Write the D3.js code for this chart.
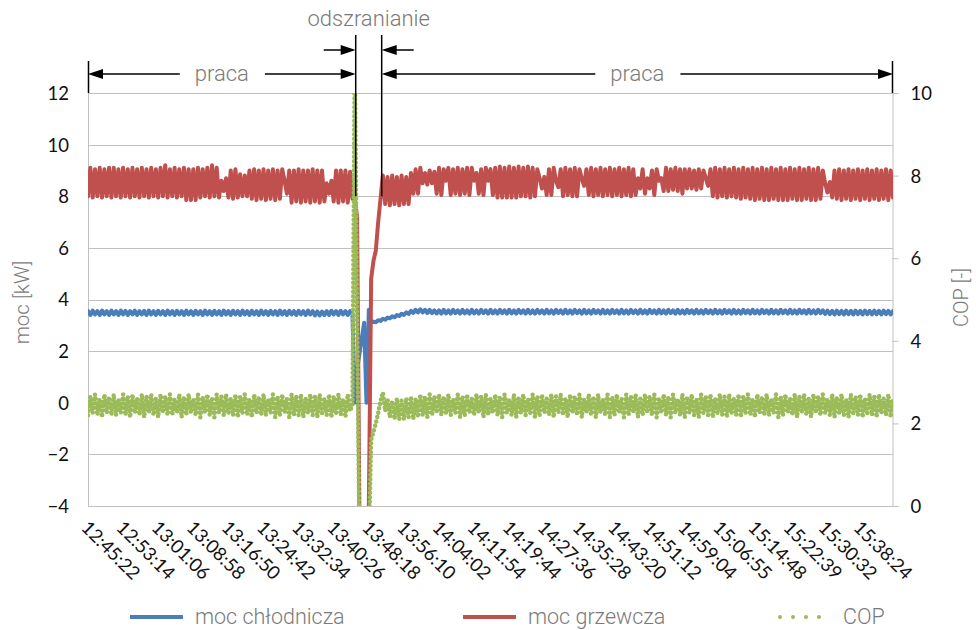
<!DOCTYPE html>
<html>
<head>
<meta charset="utf-8">
<script src="https://cdn.jsdelivr.net/npm/d3@7"></script>
<style>
  body { margin: 0; background: #fff; }
  .tick-label { font-family: Lato, "Open Sans", sans-serif; font-size: 18.5px; fill: #111; }
  .title { font-family: Roboto, sans-serif; font-weight: 300; fill: #7a7a7a; }
</style>
</head>
<body>
<svg id="chart"></svg>
<script>
(function () {
    // x axis labels, one every 15 samples
    const timeLabels = ["12:45:22", "12:53:14", "13:01:06", "13:08:58", "13:16:50", "13:24:42",
        "13:32:34", "13:40:26", "13:48:18", "13:56:10", "14:04:02", "14:11:54", "14:19:44",
        "14:27:36", "14:35:28", "14:43:20", "14:51:12", "14:59:04", "15:06:55", "15:14:48",
        "15:22:39", "15:30:32", "15:38:24"];
    const labelStep = 15;

    // moc chłodnicza [kW]
    const cooling = [
        3.55,3.4,3.57,3.42,3.55,3.4,3.57,3.42,3.55,3.4,3.57,3.42,3.55,3.4,3.57,
        3.42,3.56,3.4,3.55,3.42,3.57,3.4,3.55,3.42,3.56,3.4,3.57,3.42,3.55,3.4,
        3.56,3.42,3.55,3.4,3.57,3.42,3.55,3.4,3.56,3.42,3.55,3.4,3.57,3.42,3.55,
        3.4,3.56,3.42,3.55,3.4,3.57,3.42,3.55,3.4,3.56,3.42,3.55,3.4,3.57,3.42,
        3.55,3.4,3.56,3.42,3.55,3.4,3.57,3.42,3.55,3.4,3.56,3.42,3.55,3.4,3.57,
        3.42,3.55,3.4,3.56,3.42,3.55,3.4,3.57,3.42,3.55,3.4,3.56,3.42,3.55,3.4,
        3.56,3.42,3.55,3.4,3.57,3.42,3.55,3.38,3.54,3.38,3.53,3.4,3.55,3.4,3.56,
        3.42,3.55,3.4,3.56,3.42,3.55,3.4,3.55,3.45,0.0,1.3,1.9,2.5,3.1,0.0,
        3.6,3.1,3.14,3.12,3.2,3.17,3.25,3.22,3.3,3.27,3.35,3.31,3.4,3.36,3.45,
        3.4,3.5,3.44,3.56,3.48,3.6,3.5,3.62,3.5,3.6,3.48,3.6,3.47,3.58,3.46,
        3.58,3.45,3.6,3.46,3.58,3.45,3.6,3.47,3.58,3.45,3.6,3.46,3.58,3.45,3.6,
        3.46,3.58,3.45,3.6,3.47,3.58,3.45,3.6,3.46,3.58,3.45,3.6,3.47,3.58,3.45,
        3.6,3.46,3.58,3.45,3.6,3.47,3.58,3.45,3.6,3.46,3.58,3.45,3.6,3.47,3.58,
        3.45,3.6,3.46,3.58,3.45,3.6,3.47,3.58,3.45,3.6,3.46,3.58,3.45,3.6,3.47,
        3.58,3.45,3.6,3.46,3.58,3.45,3.6,3.47,3.58,3.45,3.6,3.46,3.58,3.45,3.6,
        3.47,3.58,3.45,3.6,3.46,3.58,3.45,3.6,3.47,3.58,3.45,3.6,3.46,3.58,3.45,
        3.6,3.47,3.58,3.45,3.6,3.46,3.58,3.45,3.6,3.47,3.58,3.45,3.6,3.46,3.58,
        3.45,3.6,3.47,3.58,3.45,3.6,3.46,3.58,3.45,3.6,3.47,3.58,3.45,3.6,3.46,
        3.58,3.45,3.6,3.47,3.58,3.45,3.6,3.46,3.58,3.45,3.6,3.47,3.58,3.45,3.6,
        3.46,3.58,3.45,3.6,3.47,3.58,3.45,3.6,3.46,3.58,3.45,3.6,3.47,3.58,3.45,
        3.6,3.46,3.58,3.45,3.6,3.47,3.58,3.45,3.6,3.46,3.58,3.45,3.6,3.47,3.58,
        3.44,3.57,3.43,3.56,3.42,3.57,3.43,3.56,3.42,3.57,3.43,3.56,3.42,3.57,3.43,
        3.56,3.42,3.57,3.43,3.56,3.42,3.57,3.43,3.56,3.42,3.57,3.43,3.56,3.42,3.55
    ];

    // moc grzewcza [kW]
    const heating = [
        8.0,9.1,7.95,9.05,8.0,9.1,7.95,9.05,8.0,9.1,7.95,9.1,8.0,9.05,7.95,
        9.1,8.0,9.05,7.95,9.1,8.0,9.05,7.95,9.1,8.0,9.05,7.95,9.1,8.0,9.05,
        7.95,9.1,8.0,9.2,7.95,9.05,8.0,9.1,7.95,9.05,8.0,9.1,7.85,9.05,7.85,
        9.05,7.85,9.1,7.95,9.05,8.0,9.1,7.95,9.2,8.0,9.1,7.95,8.6,8.2,8.7,
        7.95,9.0,7.9,9.05,7.95,8.85,8.0,8.8,8.0,9.0,7.9,9.05,7.85,9.0,7.9,
        9.05,7.85,9.0,7.9,9.05,7.85,9.0,7.9,9.05,8.6,8.1,9.0,7.75,9.0,7.8,
        9.05,7.75,9.0,7.8,9.0,7.75,9.05,7.8,9.0,7.75,9.0,7.8,8.5,8.1,8.6,
        7.8,9.0,7.75,9.0,7.8,9.0,7.75,8.95,7.9,7.9,7.2,-4.5,-6,-6,-6,
        -4.1,4.8,5.5,5.9,7.0,7.9,8.8,7.7,8.75,7.65,8.8,7.7,8.75,7.65,8.8,
        7.7,8.75,7.7,8.9,8.1,9.05,8.1,9.1,8.5,8.9,8.45,9.0,8.5,8.95,8.1,
        9.1,8.05,9.05,8.6,9.1,8.05,9.05,8.1,9.1,8.05,9.05,8.1,9.1,8.05,9.1,
        8.6,8.9,8.1,9.05,8.05,9.1,8.6,9.05,8.05,9.1,7.95,9.15,7.95,9.1,7.95,
        9.15,7.95,9.1,7.95,9.15,8.0,9.1,8.0,9.15,7.95,9.1,8.0,9.05,8.7,8.3,
        8.75,8.05,9.05,8.05,9.1,8.6,8.35,9.05,8.0,9.1,8.05,9.05,8.0,9.1,8.0,
        9.05,8.7,8.4,9.05,8.05,9.1,8.0,9.05,8.05,9.1,8.0,9.05,8.05,9.1,8.0,
        9.05,8.05,9.1,8.0,9.05,8.05,9.1,8.0,9.05,8.05,8.7,8.3,9.05,8.1,8.7,
        8.3,9.0,8.05,9.05,8.6,8.7,8.2,9.1,8.2,9.05,8.25,9.1,8.2,9.05,8.1,
        9.05,8.3,9.05,8.3,9.0,8.25,9.05,8.3,9.0,8.7,8.4,9.05,8.0,9.1,7.95,
        9.05,8.0,9.1,7.95,9.05,8.0,9.1,7.95,9.05,7.9,9.1,7.95,9.05,7.9,9.1,
        7.85,9.05,7.9,9.1,7.85,9.05,7.85,9.1,7.9,9.05,7.85,9.1,7.85,9.05,7.85,
        9.1,7.9,9.05,7.85,9.1,7.85,9.05,7.9,9.1,7.85,9.05,7.85,9.1,7.9,9.0,
        8.5,8.15,8.55,7.95,9.0,7.9,9.05,7.85,9.0,7.9,9.05,7.85,9.0,7.9,9.05,
        7.85,9.0,7.9,9.05,7.85,9.0,7.9,9.05,7.85,9.0,7.9,9.05,7.85,9.0,7.95
    ];

    // COP [-]
    const cop = [
        2.2,2.65,2.25,2.7,2.2,2.6,2.15,2.7,2.25,2.65,2.2,2.7,2.2,2.6,2.25,
        2.7,2.2,2.65,2.15,2.7,2.25,2.6,2.2,2.7,2.15,2.65,2.25,2.7,2.2,2.6,
        2.15,2.7,2.25,2.65,2.2,2.7,2.2,2.6,2.25,2.7,2.15,2.65,2.2,2.7,2.25,
        2.6,2.2,2.7,2.15,2.65,2.25,2.7,2.2,2.6,2.15,2.7,2.25,2.65,2.2,2.7,
        2.25,2.6,2.2,2.7,2.15,2.65,2.25,2.7,2.2,2.6,2.15,2.7,2.25,2.65,2.2,
        2.7,2.2,2.6,2.25,2.7,2.15,2.65,2.2,2.7,2.25,2.6,2.15,2.7,2.2,2.65,
        2.2,2.7,2.15,2.6,2.25,2.7,2.2,2.65,2.15,2.7,2.25,2.6,2.2,2.7,2.15,
        2.65,2.25,2.7,2.2,2.6,2.15,2.7,2.3,2.45,11,4.5,-1,-2,-2,-2,
        -1,1.6,1.8,2.0,2.25,2.55,2.75,2.3,2.6,2.15,2.55,2.1,2.6,2.1,2.55,
        2.1,2.6,2.15,2.65,2.1,2.6,2.15,2.7,2.2,2.65,2.15,2.7,2.2,2.65,2.25,
        2.7,2.2,2.65,2.25,2.7,2.2,2.6,2.25,2.7,2.15,2.65,2.2,2.7,2.25,2.6,
        2.2,2.7,2.25,2.65,2.15,2.7,2.2,2.6,2.25,2.7,2.2,2.65,2.15,2.7,2.25,
        2.6,2.2,2.7,2.15,2.65,2.25,2.7,2.2,2.6,2.25,2.7,2.15,2.65,2.2,2.7,
        2.25,2.6,2.2,2.7,2.15,2.65,2.25,2.7,2.2,2.6,2.15,2.7,2.25,2.65,2.2,
        2.7,2.15,2.6,2.25,2.7,2.2,2.65,2.15,2.7,2.25,2.6,2.2,2.7,2.15,2.65,
        2.2,2.7,2.25,2.6,2.15,2.7,2.2,2.65,2.25,2.7,2.15,2.6,2.2,2.7,2.25,
        2.65,2.2,2.7,2.15,2.6,2.25,2.7,2.2,2.65,2.15,2.7,2.25,2.6,2.2,2.7,
        2.15,2.65,2.25,2.7,2.2,2.6,2.15,2.7,2.25,2.65,2.2,2.7,2.15,2.6,2.25,
        2.7,2.2,2.65,2.15,2.7,2.25,2.6,2.2,2.7,2.15,2.65,2.25,2.7,2.2,2.6,
        2.15,2.7,2.25,2.65,2.2,2.7,2.2,2.6,2.25,2.7,2.15,2.65,2.2,2.7,2.25,
        2.6,2.2,2.7,2.15,2.65,2.25,2.7,2.2,2.6,2.15,2.7,2.25,2.65,2.2,2.7,
        2.25,2.6,2.2,2.7,2.15,2.65,2.25,2.7,2.2,2.6,2.15,2.7,2.25,2.65,2.2,
        2.7,2.15,2.6,2.25,2.7,2.2,2.65,2.15,2.7,2.25,2.6,2.2,2.7,2.15,2.6
    ];

    const leftTicks = [-4, -2, 0, 2, 4, 6, 8, 10, 12];
    const rightTicks = [0, 2, 4, 6, 8, 10];

    // phases marked above the plot (sample index where they start / end)
    const phases = [
        { label: "praca", from: 0, to: 114.4 },
        { label: "odszranianie", from: 114.4, to: 125.5 },
        { label: "praca", from: 125.5, to: 344 }
    ];

    const series = [
        { name: "moc chłodnicza", values: cooling, color: "#4a7ebb", axis: "left", dotted: false },
        { name: "moc grzewcza", values: heating, color: "#c0504d", axis: "left", dotted: false },
        { name: "COP", values: cop, color: "#9bbb59", axis: "right", dotted: true }
    ];

    const width = 976;
    const height = 630;
    const plot = { left: 88, right: 893, top: 93, bottom: 506 };

    const svg = d3.select('#chart')
        .attr('width', width)
        .attr('height', height);

    const xScale = d3.scaleLinear()
        .domain([0, heating.length - 1])
        .range([plot.left, plot.right]);

    const yLeft = d3.scaleLinear()
        .domain([-4, 12])
        .range([plot.bottom, plot.top]);

    const yRight = d3.scaleLinear()
        .domain([0, 10])
        .range([plot.bottom, plot.top]);

    // grid
    svg.append('g')
        .selectAll('line')
        .data(leftTicks)
        .join('line')
        .attr('x1', plot.left)
        .attr('x2', plot.right)
        .attr('y1', d => Math.round(yLeft(d)) + 0.5)
        .attr('y2', d => Math.round(yLeft(d)) + 0.5)
        .attr('stroke', '#c0c0c0')
        .attr('stroke-width', 1);

    svg.append('line')
        .attr('x1', plot.left + 0.5).attr('x2', plot.left + 0.5)
        .attr('y1', plot.top).attr('y2', plot.bottom)
        .attr('stroke', '#c0c0c0');

    // right axis with outside ticks
    const rightAxis = d3.axisRight(yRight)
        .tickValues(rightTicks)
        .tickSize(6)
        .tickFormat(d3.format('d'));

    const rg = svg.append('g')
        .attr('transform', `translate(${plot.right - 0.5},0)`)
        .call(rightAxis);
    rg.select('.domain').attr('stroke', '#c0c0c0');
    rg.selectAll('.tick line').attr('stroke', '#c0c0c0');
    rg.selectAll('.tick text')
        .attr('class', 'tick-label')
        .attr('x', 18)
        .attr('dy', '0.35em');

    // left labels
    const leftAxis = d3.axisLeft(yLeft)
        .tickValues(leftTicks)
        .tickSize(0)
        .tickFormat(d3.format('d'));

    const lg = svg.append('g')
        .attr('transform', `translate(${plot.left},0)`)
        .call(leftAxis);
    lg.select('.domain').remove();
    lg.selectAll('.tick text')
        .attr('class', 'tick-label')
        .attr('x', -19)
        .attr('dy', '0.35em');

    // x labels, rotated
    svg.append('g')
        .selectAll('text')
        .data(timeLabels)
        .join('text')
        .attr('class', 'tick-label')
        .attr('transform', (d, i) => `translate(${xScale(i * labelStep) + 2},${plot.bottom + 13}) rotate(45)`)
        .attr('dy', '0.75em')
        .text(d => d);

    // axis titles
    svg.append('text')
        .attr('class', 'title')
        .attr('font-size', 20.5)
        .attr('text-anchor', 'middle')
        .attr('transform', `translate(29,${(plot.top + plot.bottom) / 2 + 3}) rotate(-90)`)
        .text('moc [kW]');

    svg.append('text')
        .attr('class', 'title')
        .attr('font-size', 20)
        .attr('text-anchor', 'middle')
        .attr('transform', `translate(968,${(plot.top + plot.bottom) / 2 - 2}) rotate(-90)`)
        .text('COP [-]');

    // series
    svg.append('clipPath')
        .attr('id', 'plot-clip')
        .append('rect')
        .attr('x', plot.left)
        .attr('y', plot.top)
        .attr('width', plot.right - plot.left)
        .attr('height', plot.bottom - plot.top);

    const lines = svg.append('g').attr('clip-path', 'url(#plot-clip)');

    series.forEach(s => {
        const y = s.axis === 'left' ? yLeft : yRight;
        const line = d3.line()
            .x((d, i) => xScale(i))
            .y(d => y(d));

        const path = lines.append('path')
            .datum(s.values)
            .attr('fill', 'none')
            .attr('stroke', s.color)
            .attr('stroke-linejoin', 'round')
            .attr('d', line);

        if (s.dotted) {
            path.attr('stroke-width', 4.5)
                .attr('stroke-linecap', 'round')
                .attr('stroke-dasharray', '0 4.5');
        } else {
            path.attr('stroke-width', 4)
                .attr('stroke-linecap', 'round');
        }
    });

    // phase annotations
    const ann = svg.append('g');
    const arrowHead = (x, y, dir) => {
        // dir = -1 points left, 1 points right
        const p = d3.path();
        p.moveTo(x, y);
        p.lineTo(x - dir * 15, y - 5);
        p.lineTo(x - dir * 15, y + 5);
        p.closePath();
        ann.append('path').attr('d', p.toString()).attr('fill', '#000');
    };
    const hLine = (x1, x2, y) => {
        ann.append('line')
            .attr('x1', x1).attr('x2', x2)
            .attr('y1', y).attr('y2', y)
            .attr('stroke', '#000')
            .attr('stroke-width', 1.5);
    };
    const vLine = (x, y1, y2) => {
        ann.append('line')
            .attr('x1', x).attr('x2', x)
            .attr('y1', y1).attr('y2', y2)
            .attr('stroke', '#000')
            .attr('stroke-width', 1.5);
    };

    const rowY = 74;
    const defrostY = 50;

    phases.forEach(ph => {
        const x1 = xScale(ph.from);
        const x2 = xScale(ph.to);
        const cx = (x1 + x2) / 2;

        if (ph.label === 'praca') {
            const t = ann.append('text')
                .attr('class', 'title')
                .attr('font-size', 22)
                .attr('text-anchor', 'middle')
                .attr('x', cx)
                .attr('y', rowY + 7)
                .text(ph.label);
            const w = t.node().getComputedTextLength();
            hLine(x1 + 4, cx - w / 2 - 15, rowY);
            hLine(cx + w / 2 + 16, x2 - 4, rowY);
            arrowHead(x1, rowY, -1);
            arrowHead(x2, rowY, 1);
        } else {
            ann.append('text')
                .attr('class', 'title')
                .attr('font-size', 22)
                .attr('text-anchor', 'middle')
                .attr('x', cx)
                .attr('y', 26)
                .text(ph.label);
            hLine(x1 - 32, x1 - 4, defrostY);
            hLine(x2 + 4, x2 + 32, defrostY);
            arrowHead(x1, defrostY, 1);
            arrowHead(x2, defrostY, -1);
        }
    });

    // boundaries
    vLine(xScale(0) + 0.5, 61, plot.top);
    vLine(xScale(344) - 0.5, 61, plot.top);
    vLine(xScale(114.4), 35, yLeft(8));
    vLine(xScale(125.5), 35, yLeft(8));

    // legend
    const legendX = [130, 463, 778];
    const legend = svg.append('g');
    series.forEach((s, i) => {
        const g = legend.append('g').attr('transform', `translate(${legendX[i]},617)`);
        const l = g.append('line')
            .attr('x1', 0).attr('x2', 53)
            .attr('y1', 0).attr('y2', 0)
            .attr('stroke', s.color)
            .attr('stroke-width', 4);
        if (s.dotted) {
            l.attr('x1', 2).attr('x2', 54)
                .attr('stroke-linecap', 'round')
                .attr('stroke-dasharray', '0 13');
        }
        g.append('text')
            .attr('class', 'title')
            .attr('font-size', 21.5)
            .attr('x', 65)
            .attr('y', 7)
            .attr('fill', '#666')
            .text(s.name);
    });
})();
</script>
</body>
</html>
